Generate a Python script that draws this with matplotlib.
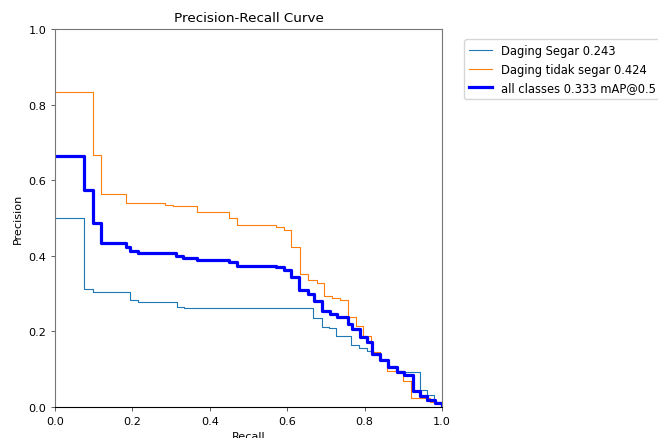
import numpy as np
import matplotlib
matplotlib.use("Agg")
import matplotlib.pyplot as plt

# Daging Segar (class 0)
segar_r = [0, 0.076, 0.097, 0.194, 0.215, 0.314, 0.333, 0.666, 0.689, 0.709, 0.726,
           0.765, 0.786, 0.805, 0.818, 0.84, 0.861, 0.883, 0.902, 0.943, 0.962, 0.98, 1.0]
segar_p = [0.500, 0.312, 0.305, 0.283, 0.277, 0.264, 0.262, 0.235, 0.212, 0.208, 0.189,
           0.164, 0.155, 0.147, 0.138, 0.124, 0.108, 0.095, 0.093, 0.045, 0.032, 0.012, 0.0]

# Daging tidak segar (class 1)
tidak_r = [0, 0.099, 0.12, 0.183, 0.284, 0.305, 0.327, 0.366, 0.45, 0.469, 0.571, 0.593,
           0.611, 0.633, 0.653, 0.676, 0.695, 0.715, 0.736, 0.758, 0.778, 0.797, 0.817,
           0.84, 0.857, 0.9, 0.92, 0.97, 1.0]
tidak_p = [0.833, 0.667, 0.563, 0.539, 0.535, 0.533, 0.531, 0.516, 0.500, 0.482, 0.477, 0.468,
           0.424, 0.352, 0.335, 0.327, 0.294, 0.288, 0.284, 0.237, 0.215, 0.189, 0.145,
           0.125, 0.096, 0.068, 0.024, 0.012, 0.0]

# all classes
all_r = [0, 0.076, 0.099, 0.12, 0.183, 0.194, 0.215, 0.313, 0.332, 0.366, 0.45, 0.469,
         0.571, 0.593, 0.611, 0.631, 0.653, 0.668, 0.689, 0.711, 0.728, 0.758, 0.767,
         0.788, 0.805, 0.818, 0.84, 0.861, 0.883, 0.902, 0.924, 0.943, 0.96, 0.982, 1.0]
all_p = [0.665, 0.573, 0.486, 0.434, 0.422, 0.412, 0.407, 0.400, 0.394, 0.389, 0.383, 0.374,
         0.370, 0.363, 0.343, 0.310, 0.299, 0.281, 0.255, 0.246, 0.237, 0.220, 0.206,
         0.184, 0.171, 0.140, 0.124, 0.105, 0.092, 0.085, 0.043, 0.030, 0.018, 0.010, 0.0]

labels = ["Daging Segar 0.243", "Daging tidak segar 0.424", "all classes 0.333 mAP@0.5"]

plt.rcParams['font.size'] = 8.1
fig = plt.figure(figsize=(6.58, 4.39), dpi=100)
ax = fig.add_axes([55/658, 1-408/439, 387/658, 378/439])

ax.plot(segar_r, segar_p, drawstyle='steps-post', lw=0.8, color='#1f77b4', label=labels[0])
ax.plot(tidak_r, tidak_p, drawstyle='steps-post', lw=0.8, color='#ff7f0e', label=labels[1])
ax.plot(all_r, all_p, drawstyle='steps-post', lw=2.3, color='blue', label=labels[2])

ax.set_xlim(0, 1)
ax.set_ylim(0, 1)
ax.set_xlabel("Recall")
ax.set_ylabel("Precision")
ax.set_title("Precision-Recall Curve", fontsize=9.7)
for name, s in ax.spines.items():
    s.set_linewidth(0.8)
    s.set_color('black' if name == 'bottom' else '#777777')
ax.tick_params(width=0.6, length=2.8, color='#444444')
ax.legend(bbox_to_anchor=(1.043, 0.988), loc="upper left", fontsize=8.3)

fig.savefig("out.png", dpi=100)
